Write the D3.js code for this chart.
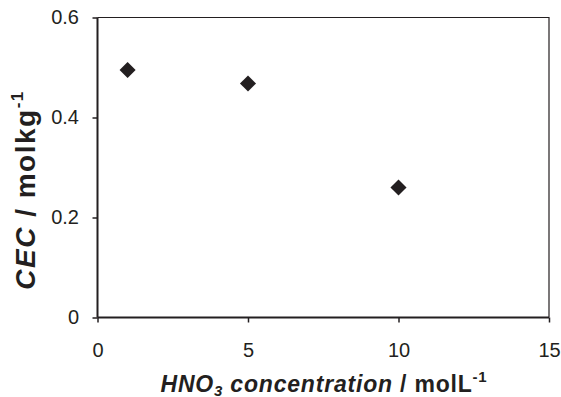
<!DOCTYPE html>
<html>
<head>
<meta charset="utf-8">
<script src="https://cdn.jsdelivr.net/npm/d3@7"></script>
<style>
  html, body { margin: 0; padding: 0; background: #fff; }
  svg { display: block; font-family: "Liberation Sans", Arial, sans-serif; }
</style>
</head>
<body>
<svg id="chart" width="561" height="397"></svg>
<script>
// HNO3 concentration (mol/L) and cation exchange capacity (mol/kg)
const concentration = [1, 5, 10];
const cec = [0.495, 0.468, 0.26];
const xTicks = [0, 5, 10, 15];
const yTicks = [0, 0.2, 0.4, 0.6];

const svg = d3.select("#chart");
const margin = { left: 97.5, right: 12, top: 17.5, bottom: 79.5 };
const W = 561, H = 397;
const ink = "#231f20";

const x = d3.scaleLinear().domain([0, 15]).range([margin.left, W - margin.right]);
const y = d3.scaleLinear().domain([0, 0.6]).range([H - margin.bottom, margin.top]);

// frame: top and right edges
svg.append("path")
  .attr("d", `M${x(0)},${y(0.6)}H${x(15)}V${y(0)}`)
  .attr("fill", "none").attr("stroke", ink).attr("stroke-width", 1.2);

const fmtY = d => d === 0 ? "0" : d3.format(".1f")(d);

const xAxis = svg.append("g")
  .attr("transform", `translate(0,${y(0)})`)
  .call(d3.axisBottom(x).tickValues(xTicks).tickSize(5).tickPadding(20).tickFormat(d3.format("d")));
const yAxis = svg.append("g")
  .attr("transform", `translate(${x(0)},0)`)
  .call(d3.axisLeft(y).tickValues(yTicks).tickSize(5).tickPadding(13.5).tickFormat(fmtY));

[xAxis, yAxis].forEach(g => {
  g.attr("font-size", 20).attr("font-family", "'Liberation Sans', Arial, sans-serif");
  g.select(".domain").attr("stroke", ink).attr("stroke-width", 2);
  g.selectAll(".tick line").attr("stroke", ink).attr("stroke-width", 1.5);
  g.selectAll(".tick text").attr("fill", ink);
});
xAxis.select(".domain").attr("d", `M${x(0)},0H${x(15)}`);
yAxis.select(".domain").attr("d", `M0,${y(0)}V${y(0.6)}`);

// data markers (diamonds)
const diamond = d3.symbol().type(d3.symbolDiamond2).size(165);
svg.append("g").selectAll("path")
  .data(concentration.map((c, i) => [c, cec[i]]))
  .join("path")
  .attr("transform", d => `translate(${x(d[0])},${y(d[1])})`)
  .attr("d", diamond)
  .attr("fill", ink);

// x-axis title
const xt = svg.append("text")
  .attr("x", 324).attr("y", 392)
  .attr("text-anchor", "middle")
  .attr("letter-spacing", 0.8)
  .attr("font-size", 23).attr("font-weight", "bold").attr("fill", ink);
xt.append("tspan").attr("font-style", "italic").text("HNO");
xt.append("tspan").attr("font-style", "italic").attr("font-size", 15).attr("dy", 3.5).text("3");
xt.append("tspan").attr("font-style", "italic").attr("dy", -3.5).text(" concentration");
xt.append("tspan").text(" / molL");
xt.append("tspan").attr("font-size", 15).attr("dy", -10).text("-1");

// y-axis title
const yt = svg.append("text")
  .attr("transform", "translate(35,190) rotate(-90)")
  .attr("text-anchor", "middle")
  .attr("letter-spacing", 1.5)
  .attr("font-size", 28).attr("font-weight", "bold").attr("fill", ink);
yt.append("tspan").attr("font-style", "italic").text("CEC");
yt.append("tspan").text(" / molkg");
yt.append("tspan").attr("font-size", 17).attr("dy", -12).text("-1");
</script>
</body>
</html>
